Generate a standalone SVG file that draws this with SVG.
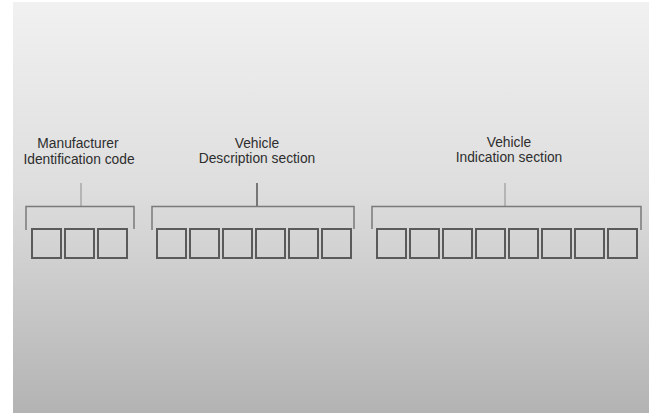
<svg xmlns="http://www.w3.org/2000/svg" width="649" height="413" viewBox="0 0 649 413">
<defs>
<linearGradient id="bg" x1="0" y1="0" x2="0" y2="1">
<stop offset="0" stop-color="#f1f1f1"/>
<stop offset="0.45" stop-color="#dedede"/>
<stop offset="1" stop-color="#b3b3b3"/>
</linearGradient>
</defs>
<style>
.lbl{font-family:"Liberation Sans",Arial,sans-serif;font-size:13.8px;fill:#2e2e2e;text-anchor:middle}
.box{fill:none;stroke:#5a5a5a;stroke-width:2}
.br{fill:none;stroke:#7a7a7a;stroke-width:1.5}
.stem{stroke:#9a9a9a;stroke-width:1.2}
.stem2{stroke:#555;stroke-width:1.5}
</style>
<rect width="649" height="413" fill="#ffffff"/>
<rect x="13" y="2" width="636" height="411" fill="url(#bg)"/>
<g id="connectors">
<line class="stem" x1="81" y1="183" x2="81" y2="206"/>
<path class="br" d="M26,230 V206.5 H134 V229"/>
<line class="stem2" x1="257" y1="183" x2="257" y2="206"/>
<path class="br" d="M152,230 V206.5 H354 V229"/>
<line class="stem" x1="505" y1="183" x2="505" y2="206"/>
<path class="br" d="M372,229 V206.5 H641 V230"/>
</g>
<g id="wmi">
<text class="lbl" x="78" y="148">Manufacturer</text>
<text class="lbl" x="79" y="164">Identification code</text>
<rect class="box" x="32" y="229" width="29" height="29"/>
<rect class="box" x="65" y="229" width="29" height="29"/>
<rect class="box" x="98" y="229" width="29" height="29"/>
</g>
<g id="vds">
<text class="lbl" x="257" y="148">Vehicle</text>
<text class="lbl" x="257" y="163">Description section</text>
<rect class="box" x="157" y="229" width="29" height="29"/>
<rect class="box" x="190" y="229" width="29" height="29"/>
<rect class="box" x="223" y="229" width="29" height="29"/>
<rect class="box" x="256" y="229" width="29" height="29"/>
<rect class="box" x="289" y="229" width="29" height="29"/>
<rect class="box" x="322" y="229" width="29" height="29"/>
</g>
<g id="vis">
<text class="lbl" x="509" y="147">Vehicle</text>
<text class="lbl" x="509" y="162">Indication section</text>
<rect class="box" x="377" y="229" width="29" height="29"/>
<rect class="box" x="410" y="229" width="29" height="29"/>
<rect class="box" x="443" y="229" width="29" height="29"/>
<rect class="box" x="476" y="229" width="29" height="29"/>
<rect class="box" x="509" y="229" width="29" height="29"/>
<rect class="box" x="542" y="229" width="29" height="29"/>
<rect class="box" x="575" y="229" width="29" height="29"/>
<rect class="box" x="608" y="229" width="29" height="29"/>
</g>
</svg>
